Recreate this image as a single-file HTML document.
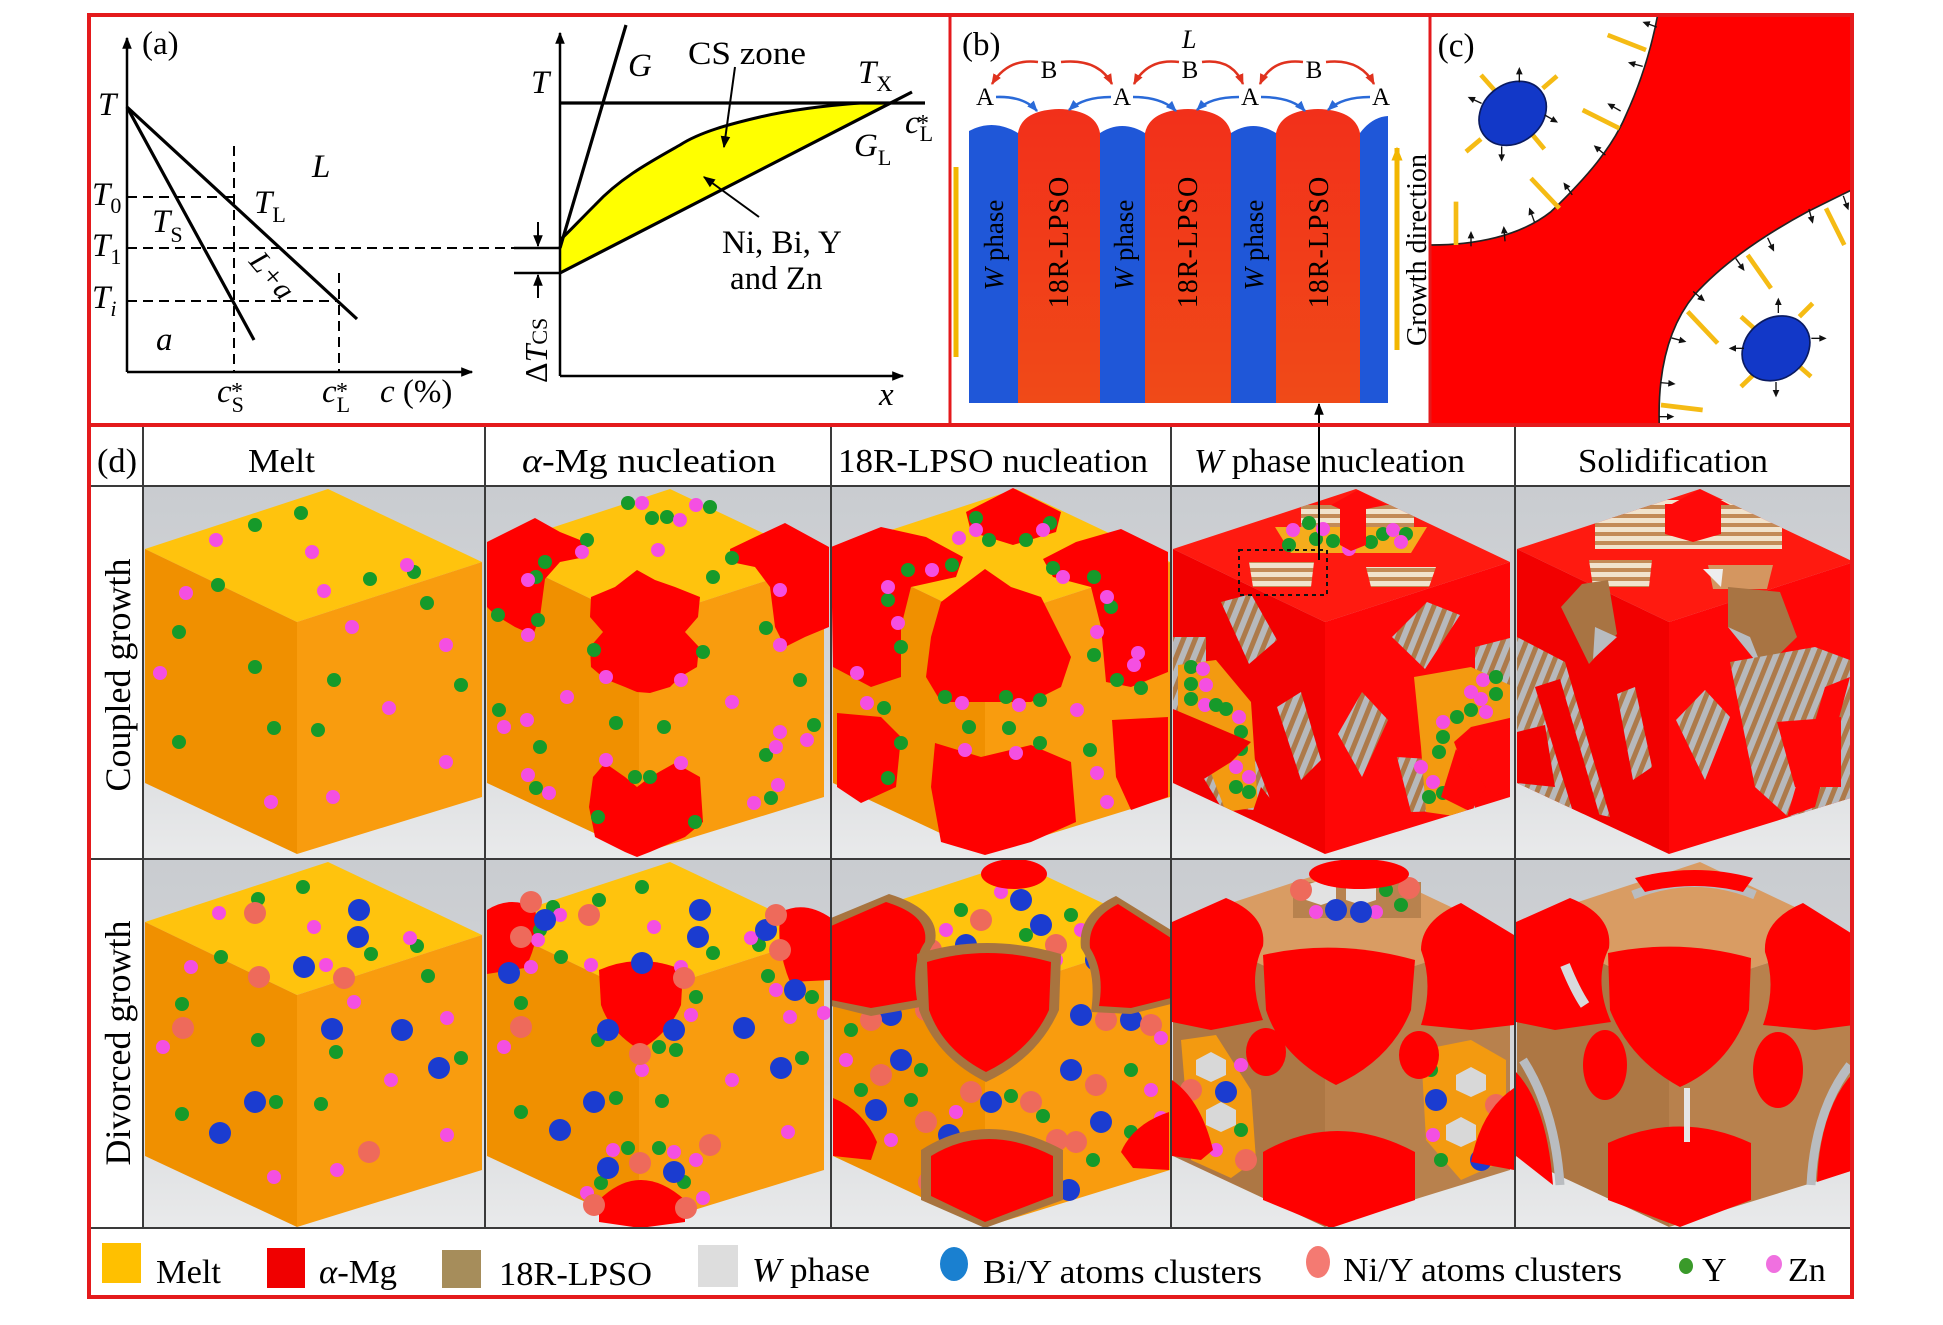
<!DOCTYPE html>
<html><head><meta charset="utf-8">
<style>
html,body{margin:0;padding:0;background:#fff;}
svg{display:block;}
text{font-family:"Liberation Serif","DejaVu Serif",serif;fill:#000;}
</style></head><body>
<svg width="1943" height="1325" viewBox="0 0 1943 1325" xmlns="http://www.w3.org/2000/svg">
<defs>
 <linearGradient id="bg" x1="0" y1="0" x2="0" y2="1">
  <stop offset="0" stop-color="#c9ccd0"/><stop offset="0.6" stop-color="#d6d8db"/><stop offset="1" stop-color="#e9eaeb"/>
 </linearGradient>
 <linearGradient id="rb" x1="0" y1="0" x2="0" y2="1">
  <stop offset="0" stop-color="#f2301a"/><stop offset="1" stop-color="#f04a18"/>
 </linearGradient>
 <clipPath id="cc"><polygon points="185,2 339,75 339,310 154,367 2,296 2,62"/></clipPath>
 <marker id="mk" viewBox="0 0 10 10" refX="9" refY="5" markerWidth="12" markerHeight="12" markerUnits="userSpaceOnUse" orient="auto"><path d="M0,1 L10,5 L0,9 z" fill="#000"/></marker>
 <marker id="mr" viewBox="0 0 10 10" refX="9" refY="5" markerWidth="11" markerHeight="11" markerUnits="userSpaceOnUse" orient="auto"><path d="M0,1 L10,5 L0,9 z" fill="#e0321e"/></marker>
 <marker id="mb" viewBox="0 0 10 10" refX="9" refY="5" markerWidth="11" markerHeight="11" markerUnits="userSpaceOnUse" orient="auto"><path d="M0,1 L10,5 L0,9 z" fill="#2a6ad8"/></marker>
 <marker id="my" viewBox="0 0 10 10" refX="9" refY="5" markerWidth="14" markerHeight="14" markerUnits="userSpaceOnUse" orient="auto"><path d="M0,1 L10,5 L0,9 z" fill="#f2b600"/></marker>
 <pattern id="stT" width="9" height="9" patternUnits="userSpaceOnUse"><rect width="9" height="9" fill="#f1e3cd"/><rect width="9" height="4" fill="#c38b57"/></pattern>
 <pattern id="stS" width="11" height="11" patternUnits="userSpaceOnUse" patternTransform="rotate(22)"><rect width="11" height="11" fill="#b7b9bc"/><rect width="5" height="11" fill="#ad7a4a"/></pattern>
 <g id="cubeO">
  <polygon points="185,2 2,62 154,135 339,75" fill="#ffc30d"/>
  <polygon points="2,62 154,135 154,367 2,296" fill="#f09000"/>
  <polygon points="154,135 339,75 339,310 154,367" fill="#f99c0e"/>
 </g>
 <g id="cubeR">
  <polygon points="185,2 2,62 154,135 339,75" fill="#ff1a10"/>
  <polygon points="2,62 154,135 154,367 2,296" fill="#f20000"/>
  <polygon points="154,135 339,75 339,310 154,367" fill="#ff0606"/>
 </g>
 <g id="cubeB">
  <polygon points="185,2 2,62 154,135 339,75" fill="#d99c63"/>
  <polygon points="2,62 154,135 154,367 2,296" fill="#ad7744"/>
  <polygon points="154,135 339,75 339,310 154,367" fill="#b8814d"/>
 </g>
 <circle id="g" r="7" fill="#169a2a"/>
 <circle id="p" r="7" fill="#f44fe2"/>
 <circle id="b" r="11" fill="#1b3cd0"/>
 <circle id="s" r="11" fill="#ee6a5b"/>
 <g id="ar"><line x1="-24" y1="0" x2="2" y2="0" stroke="#111" stroke-width="4"/><path d="M0,-10 L22,0 L0,10 Z" fill="#111"/></g>
</defs>

<rect width="1943" height="1325" fill="#fff"/>

<!-- ================= PANEL (a) ================= -->
<g stroke="#000" fill="none">
 <line x1="127" y1="372" x2="127" y2="38" stroke-width="2.5" marker-end="url(#mk)"/>
 <line x1="127" y1="372" x2="472" y2="372" stroke-width="2.5" marker-end="url(#mk)"/>
 <line x1="127" y1="107" x2="357" y2="319" stroke-width="3.2"/>
 <line x1="127" y1="107" x2="254" y2="340" stroke-width="3.2"/>
 <g stroke-width="2" stroke-dasharray="10,6">
  <line x1="234" y1="146" x2="234" y2="372"/>
  <line x1="339" y1="273" x2="339" y2="372"/>
  <line x1="127" y1="197" x2="234" y2="197"/>
  <line x1="127" y1="248" x2="514" y2="248"/>
  <line x1="127" y1="301" x2="339" y2="301"/>
 </g>
</g>
<text x="142" y="54" font-size="33">(a)</text>
<text x="98" y="115" font-size="33" font-style="italic">T</text>
<text x="92" y="205" font-size="33" font-style="italic">T<tspan font-size="22" font-style="normal" dy="8">0</tspan></text>
<text x="92" y="256" font-size="33" font-style="italic">T<tspan font-size="22" font-style="normal" dy="8">1</tspan></text>
<text x="92" y="308" font-size="33" font-style="italic">T<tspan font-size="22" dy="8">i</tspan></text>
<text x="312" y="177" font-size="33" font-style="italic">L</text>
<text x="254" y="213" font-size="33" font-style="italic">T<tspan font-size="22" font-style="normal" dy="9">L</tspan></text>
<text x="152" y="232" font-size="33" font-style="italic">T<tspan font-size="22" font-style="normal" dy="10">S</tspan></text>
<text x="0" y="0" font-size="30" font-style="italic" transform="translate(248,262) rotate(50)">L+a</text>
<text x="156" y="350" font-size="33" font-style="italic">a</text>
<text x="217" y="402" font-size="33" font-style="italic">c<tspan font-size="22" font-style="normal" dy="10">S</tspan></text>
<text x="231" y="399" font-size="24">*</text>
<text x="322" y="402" font-size="33" font-style="italic">c<tspan font-size="22" font-style="normal" dy="10">L</tspan></text>
<text x="336" y="399" font-size="24">*</text>
<text x="380" y="402" font-size="33"><tspan font-style="italic">c</tspan> (%)</text>

<!-- right chart -->
<path d="M560,273 L890,103 L860,103 C820,106 790,110 760,117 C730,124 700,132 680,145 C650,162 620,178 595,205 C578,222 566,235 560,240 Z" fill="#ffff00"/>
<path d="M560,240 C566,235 578,222 595,205 C620,178 650,162 680,145 C700,132 730,124 760,117 C790,110 820,106 860,103 L890,103" fill="none" stroke="#000" stroke-width="3"/>
<g stroke="#000" fill="none">
 <line x1="560" y1="376" x2="560" y2="33" stroke-width="2.5" marker-end="url(#mk)"/>
 <line x1="560" y1="376" x2="903" y2="376" stroke-width="2.5" marker-end="url(#mk)"/>
 <line x1="560" y1="103" x2="925" y2="103" stroke-width="3.2"/>
 <line x1="560" y1="248" x2="626" y2="25" stroke-width="3.2"/>
 <line x1="560" y1="273" x2="912" y2="92" stroke-width="3.2"/>
 <line x1="514" y1="248" x2="560" y2="248" stroke-width="2.5"/>
 <line x1="514" y1="273" x2="560" y2="273" stroke-width="2.5"/>
 <line x1="538" y1="222" x2="538" y2="246" stroke-width="2" marker-end="url(#mk)"/>
 <line x1="538" y1="298" x2="538" y2="275" stroke-width="2" marker-end="url(#mk)"/>
 <line x1="735" y1="67" x2="724" y2="147" stroke-width="2" marker-end="url(#mk)"/>
 <line x1="759" y1="217" x2="704" y2="177" stroke-width="2" marker-end="url(#mk)"/>
</g>
<text x="531" y="93" font-size="33" font-style="italic">T</text>
<text x="628" y="76" font-size="33" font-style="italic">G</text>
<text x="688" y="64" font-size="33" textLength="118" lengthAdjust="spacingAndGlyphs">CS zone</text>
<text x="858" y="83" font-size="33" font-style="italic">T<tspan font-size="22" font-style="normal" dy="8">X</tspan></text>
<text x="905" y="133" font-size="33" font-style="italic">c<tspan font-size="22" font-style="normal" dy="8">L</tspan></text>
<text x="917" y="131" font-size="24">*</text>
<text x="854" y="156" font-size="33" font-style="italic">G<tspan font-size="22" font-style="normal" dy="9">L</tspan></text>
<text x="722" y="253" font-size="33">Ni, Bi, Y</text>
<text x="730" y="289" font-size="33">and Zn</text>
<text x="879" y="405" font-size="33" font-style="italic">x</text>
<text x="0" y="0" font-size="32" transform="translate(547,383) rotate(-90)"><tspan font-style="normal">Δ</tspan><tspan font-style="italic">T</tspan><tspan font-size="22" dy="0">CS</tspan></text>

<!-- ================= PANEL (b) ================= -->
<path d="M969,403 L969,131 Q993,118 1018,133 L1018,403 Z" fill="#1f57d8"/>
<path d="M1018,403 L1018,133 Q1022,110 1059,109 Q1096,110 1100,133 L1100,403 Z" fill="url(#rb)"/>
<path d="M1100,403 L1100,133 Q1122,119 1145,133 L1145,403 Z" fill="#1f57d8"/>
<path d="M1145,403 L1145,133 Q1150,110 1188,109 Q1226,110 1231,133 L1231,403 Z" fill="url(#rb)"/>
<path d="M1231,403 L1231,133 Q1253,119 1276,133 L1276,403 Z" fill="#1f57d8"/>
<path d="M1276,403 L1276,133 Q1281,110 1318,109 Q1355,110 1360,133 L1360,403 Z" fill="url(#rb)"/>
<path d="M1360,403 L1360,133 Q1372,117 1388,116 L1388,403 Z" fill="#1f57d8"/>
<g font-size="27" fill="#101030">
 <text transform="translate(1003,245) rotate(-90)" text-anchor="middle"><tspan font-style="italic">W</tspan> phase</text>
 <text transform="translate(1133,245) rotate(-90)" text-anchor="middle"><tspan font-style="italic">W</tspan> phase</text>
 <text transform="translate(1263,245) rotate(-90)" text-anchor="middle"><tspan font-style="italic">W</tspan> phase</text>
</g>
<g font-size="28" fill="#2a0500">
 <text transform="translate(1068,242) rotate(-90)" text-anchor="middle" letter-spacing="1">18R-LPSO</text>
 <text transform="translate(1197,242) rotate(-90)" text-anchor="middle" letter-spacing="1">18R-LPSO</text>
 <text transform="translate(1328,242) rotate(-90)" text-anchor="middle" letter-spacing="1">18R-LPSO</text>
</g>
<line x1="956" y1="167" x2="956" y2="357" stroke="#f2b600" stroke-width="5"/>
<line x1="1397" y1="350" x2="1397" y2="148" stroke="#f2b600" stroke-width="5" marker-end="url(#my)"/>
<text transform="translate(1426,250) rotate(-90)" text-anchor="middle" font-size="28">Growth direction</text>
<text x="962" y="55" font-size="33">(b)</text>
<text x="1182" y="48" font-size="26" font-style="italic">L</text>
<g font-size="25" text-anchor="middle">
 <text x="1049" y="78">B</text><text x="1190" y="78">B</text><text x="1314" y="78">B</text>
 <text x="985" y="105">A</text><text x="1122" y="105">A</text><text x="1250" y="105">A</text><text x="1381" y="105">A</text>
</g>
<g fill="none" stroke="#e0321e" stroke-width="2.5">
 <path d="M1038,62 Q1008,58 992,84" marker-end="url(#mr)"/>
 <path d="M1061,62 Q1098,58 1112,84" marker-end="url(#mr)"/>
 <path d="M1179,62 Q1148,58 1134,84" marker-end="url(#mr)"/>
 <path d="M1202,62 Q1232,58 1243,84" marker-end="url(#mr)"/>
 <path d="M1303,62 Q1272,58 1260,84" marker-end="url(#mr)"/>
 <path d="M1326,62 Q1360,58 1374,84" marker-end="url(#mr)"/>
</g>
<g fill="none" stroke="#2a6ad8" stroke-width="2.5">
 <path d="M996,97 Q1024,96 1037,111" marker-end="url(#mb)"/>
 <path d="M1111,97 Q1083,97 1069,110" marker-end="url(#mb)"/>
 <path d="M1133,97 Q1162,97 1176,111" marker-end="url(#mb)"/>
 <path d="M1239,97 Q1210,97 1197,110" marker-end="url(#mb)"/>
 <path d="M1261,97 Q1292,97 1305,111" marker-end="url(#mb)"/>
 <path d="M1370,97 Q1342,97 1328,110" marker-end="url(#mb)"/>
</g>

<!-- ================= PANEL (c) ================= -->
<g transform="translate(1431,15) scale(0.33333)">
 <path d="M680,0 C665,80 640,180 585,300 C545,395 470,485 360,590 C265,665 130,690 0,690 L0,1236 L685,1236 C680,1100 700,950 790,840 C880,740 1000,660 1130,590 C1190,560 1230,540 1262,525 L1262,0 Z" fill="#ff0000"/>
 <path d="M680,0 C665,80 640,180 585,300 C545,395 470,485 360,590 C265,665 130,690 0,690" fill="none" stroke="#222" stroke-width="5"/>
 <path d="M685,1236 C680,1100 700,950 790,840 C880,740 1000,660 1130,590 C1190,560 1230,540 1262,525" fill="none" stroke="#222" stroke-width="5"/>
 <g stroke="#f5bb14" stroke-width="14" stroke-linecap="butt">
  <line x1="530" y1="60" x2="645" y2="105"/><line x1="455" y1="285" x2="565" y2="340"/>
  <line x1="300" y1="490" x2="385" y2="580"/><line x1="75" y1="560" x2="75" y2="690"/>
  <line x1="150" y1="180" x2="190" y2="225"/><line x1="378" y1="183" x2="335" y2="220"/>
  <line x1="105" y1="410" x2="150" y2="372"/><line x1="340" y1="402" x2="305" y2="360"/>
  <line x1="1185" y1="580" x2="1240" y2="690"/><line x1="950" y1="720" x2="1020" y2="820"/>
  <line x1="770" y1="890" x2="860" y2="985"/><line x1="690" y1="1170" x2="815" y2="1185"/>
  <line x1="930" y1="905" x2="975" y2="945"/><line x1="1145" y1="865" x2="1105" y2="905"/>
  <line x1="930" y1="1115" x2="975" y2="1072"/><line x1="1140" y1="1085" x2="1100" y2="1050"/>
 </g>
 <ellipse cx="245" cy="295" rx="108" ry="88" transform="rotate(-38 245 295)" fill="#1238c8" stroke="#0a1a60" stroke-width="5"/>
 <ellipse cx="1035" cy="1000" rx="108" ry="90" transform="rotate(-38 1035 1000)" fill="#1238c8" stroke="#0a1a60" stroke-width="5"/>
 <use href="#ar" transform="translate(265,178) rotate(-90)"/>
 <use href="#ar" transform="translate(130,255) rotate(-155)"/>
 <use href="#ar" transform="translate(362,312) rotate(30)"/>
 <use href="#ar" transform="translate(212,418) rotate(90)"/>
 <use href="#ar" transform="translate(1042,870) rotate(-90)"/>
 <use href="#ar" transform="translate(1165,970) rotate(0)"/>
 <use href="#ar" transform="translate(915,1000) rotate(180)"/>
 <use href="#ar" transform="translate(1035,1125) rotate(90)"/>
 <use href="#ar" transform="translate(655,28) rotate(-160)"/>
 <use href="#ar" transform="translate(612,148) rotate(-165)"/>
 <use href="#ar" transform="translate(548,276) rotate(-150)"/>
 <use href="#ar" transform="translate(505,405) rotate(-140)"/>
 <use href="#ar" transform="translate(410,520) rotate(-125)"/>
 <use href="#ar" transform="translate(302,598) rotate(-110)"/>
 <use href="#ar" transform="translate(220,655) rotate(-95)"/>
 <use href="#ar" transform="translate(120,670) rotate(-90)"/>
 <use href="#ar" transform="translate(1245,565) rotate(70)"/>
 <use href="#ar" transform="translate(1140,605) rotate(75)"/>
 <use href="#ar" transform="translate(1020,690) rotate(65)"/>
 <use href="#ar" transform="translate(928,750) rotate(55)"/>
 <use href="#ar" transform="translate(805,845) rotate(40)"/>
 <use href="#ar" transform="translate(745,975) rotate(15)"/>
 <use href="#ar" transform="translate(712,1105) rotate(5)"/>
 <use href="#ar" transform="translate(708,1205) rotate(0)"/>
 <text x="20" y="125" font-size="100">(c)</text>
</g>

<!-- ================= PANEL (d) grid ================= -->
<g>
 <rect x="143" y="487" width="1709" height="371" fill="url(#bg)"/>
 <rect x="143" y="860" width="1709" height="368" fill="url(#bg)"/>
</g>

<!-- Row 1 Melt -->
<g transform="translate(143,487)">
 <use href="#cubeO"/>
 <use href="#g" x="158" y="26"/><use href="#g" x="112" y="38"/><use href="#g" x="75" y="98"/><use href="#g" x="227" y="92"/><use href="#g" x="271" y="85"/><use href="#g" x="284" y="116"/><use href="#g" x="36" y="145"/><use href="#g" x="112" y="180"/><use href="#g" x="191" y="193"/><use href="#g" x="318" y="198"/><use href="#g" x="131" y="241"/><use href="#g" x="175" y="243"/><use href="#g" x="36" y="255"/>
 <use href="#p" x="73" y="53"/><use href="#p" x="169" y="65"/><use href="#p" x="264" y="78"/><use href="#p" x="181" y="104"/><use href="#p" x="43" y="106"/><use href="#p" x="209" y="140"/><use href="#p" x="303" y="158"/><use href="#p" x="17" y="186"/><use href="#p" x="246" y="221"/><use href="#p" x="303" y="275"/><use href="#p" x="128" y="315"/><use href="#p" x="190" y="310"/>
</g>

<!-- Row 1 alpha-Mg -->
<g transform="translate(485,487)">
 <use href="#cubeO"/>
 <g fill="#ff0000">
  <polygon points="152,83 170,93 190,100 215,110 213,130 200,145 214,160 212,180 195,190 185,200 165,206 152,205 140,200 120,192 106,180 105,160 118,145 105,130 106,110 130,100"/>
  <polygon points="2,55 50,31 75,45 100,55 100,70 75,75 60,92 55,130 48,148 30,140 10,128 2,120"/>
  <polygon points="344,60 300,36 270,50 245,62 246,75 270,80 285,100 290,140 300,160 320,150 344,140"/>
  <polygon points="120,276 140,290 152,300 165,290 190,276 215,290 218,335 200,350 165,365 152,370 140,365 110,350 104,320 108,290"/>
 </g>
 <use href="#g" x="143" y="16"/><use href="#g" x="225" y="20"/><use href="#g" x="167" y="31"/><use href="#g" x="182" y="30"/><use href="#g" x="228" y="90"/><use href="#g" x="247" y="71"/><use href="#g" x="281" y="141"/><use href="#g" x="315" y="193"/><use href="#g" x="329" y="238"/><use href="#g" x="281" y="268"/><use href="#g" x="286" y="311"/><use href="#g" x="179" y="240"/><use href="#g" x="131" y="236"/><use href="#g" x="55" y="260"/><use href="#g" x="14" y="223"/><use href="#g" x="51" y="301"/><use href="#g" x="150" y="290"/><use href="#g" x="165" y="290"/><use href="#g" x="210" y="335"/><use href="#g" x="113" y="330"/><use href="#g" x="53" y="133"/><use href="#g" x="13" y="128"/><use href="#g" x="102" y="53"/><use href="#g" x="51" y="90"/><use href="#g" x="60" y="75"/><use href="#g" x="218" y="165"/><use href="#g" x="109" y="163"/>
 <use href="#p" x="157" y="16"/><use href="#p" x="211" y="18"/><use href="#p" x="195" y="33"/><use href="#p" x="173" y="63"/><use href="#p" x="97" y="65"/><use href="#p" x="43" y="93"/><use href="#p" x="43" y="148"/><use href="#p" x="295" y="158"/><use href="#p" x="295" y="103"/><use href="#p" x="82" y="210"/><use href="#p" x="247" y="215"/><use href="#p" x="19" y="240"/><use href="#p" x="42" y="233"/><use href="#p" x="295" y="245"/><use href="#p" x="322" y="253"/><use href="#p" x="291" y="260"/><use href="#p" x="121" y="273"/><use href="#p" x="196" y="276"/><use href="#p" x="43" y="288"/><use href="#p" x="64" y="306"/><use href="#p" x="269" y="316"/><use href="#p" x="293" y="298"/><use href="#p" x="121" y="190"/><use href="#p" x="196" y="193"/>
</g>

<!-- Row 1 18R-LPSO -->
<g transform="translate(831,487)">
 <use href="#cubeO"/>
 <g fill="#ff0000">
  <polygon points="182,1 230,25 225,45 182,58 140,45 135,25"/>
  <polygon points="0,60 50,40 95,50 132,70 125,90 80,100 70,140 70,190 40,200 2,180"/>
  <polygon points="337,65 290,42 245,55 212,72 222,90 260,100 270,140 275,195 300,200 337,185"/>
  <polygon points="154,82 180,100 210,110 225,140 240,170 230,200 200,215 154,215 110,215 95,190 100,150 110,115 130,100"/>
  <polygon points="6,226 50,230 70,250 65,300 30,316 6,300"/>
  <polygon points="281,233 337,230 337,310 300,323 285,290"/>
  <polygon points="104,256 150,270 200,258 240,275 245,335 200,355 154,368 110,355 100,300"/>
 </g>
 <use href="#g" x="158" y="53"/><use href="#g" x="195" y="53"/><use href="#g" x="219" y="36"/><use href="#g" x="145" y="31"/><use href="#g" x="77" y="83"/><use href="#g" x="121" y="78"/><use href="#g" x="222" y="81"/><use href="#g" x="263" y="90"/><use href="#g" x="280" y="120"/><use href="#g" x="57" y="113"/><use href="#g" x="70" y="160"/><use href="#g" x="263" y="168"/><use href="#g" x="114" y="210"/><use href="#g" x="175" y="210"/><use href="#g" x="209" y="213"/><use href="#g" x="286" y="193"/><use href="#g" x="310" y="201"/><use href="#g" x="53" y="221"/><use href="#g" x="138" y="240"/><use href="#g" x="178" y="241"/><use href="#g" x="70" y="256"/><use href="#g" x="259" y="263"/><use href="#g" x="209" y="256"/><use href="#g" x="57" y="291"/>
 <use href="#p" x="145" y="43"/><use href="#p" x="212" y="43"/><use href="#p" x="128" y="51"/><use href="#p" x="101" y="83"/><use href="#p" x="232" y="90"/><use href="#p" x="57" y="100"/><use href="#p" x="276" y="110"/><use href="#p" x="67" y="136"/><use href="#p" x="266" y="145"/><use href="#p" x="26" y="186"/><use href="#p" x="303" y="178"/><use href="#p" x="131" y="216"/><use href="#p" x="188" y="218"/><use href="#p" x="246" y="223"/><use href="#p" x="36" y="216"/><use href="#p" x="134" y="263"/><use href="#p" x="185" y="266"/><use href="#p" x="266" y="286"/><use href="#p" x="276" y="315"/><use href="#p" x="307" y="166"/>
</g>

<!-- Row 1 W phase -->
<g transform="translate(1171,487)">
 <use href="#cubeR"/>
 <g clip-path="url(#cc)">
  <polygon points="130,18 243,18 243,50 130,50" fill="url(#stT)"/>
  <polygon points="104,40 256,40 240,66 120,66" fill="#f5ac1c"/>
  <use href="#p" x="122" y="43"/><use href="#g" x="138" y="36"/><use href="#g" x="145" y="52"/><use href="#p" x="152" y="42"/><use href="#g" x="162" y="54"/><use href="#p" x="178" y="62"/><use href="#g" x="200" y="55"/><use href="#g" x="212" y="47"/><use href="#p" x="222" y="43"/><use href="#g" x="235" y="47"/><use href="#p" x="230" y="55"/><use href="#g" x="118" y="58"/>
  <polygon points="187,3 215,18 195,22 195,58 180,64 169,58 169,22 160,18" fill="#ff0a0a"/>
  <polygon points="78,75 143,75 140,100 82,100" fill="url(#stT)"/>
  <polygon points="195,80 265,80 258,100 200,100" fill="url(#stT)"/>
  <polygon points="50,115 80,107 106,153 78,177" fill="url(#stS)"/>
  <polygon points="221,150 256,115 289,128 254,182" fill="url(#stS)"/>
  <polygon points="106,220 130,205 150,273 130,293" fill="url(#stS)"/>
  <polygon points="167,247 191,205 217,233 191,290" fill="url(#stS)"/>
  <polygon points="2,150 35,150 35,253 2,260" fill="url(#stS)"/>
  <polygon points="20,270 80,262 104,325 50,320" fill="url(#stS)"/>
  <polygon points="7,178 45,173 80,215 87,320 55,325 30,260 7,235" fill="#f39a10"/>
  <polygon points="304,160 343,150 343,260 304,265" fill="url(#stS)"/>
  <polygon points="226,270 304,275 304,323 240,325" fill="url(#stS)"/>
  <polygon points="243,190 300,180 343,200 343,250 290,330 255,325 250,260" fill="#f39a10"/>
  <use href="#g" x="20" y="180"/><use href="#p" x="32" y="182"/><use href="#g" x="20" y="197"/><use href="#p" x="35" y="198"/><use href="#g" x="20" y="212"/><use href="#p" x="34" y="218"/><use href="#g" x="45" y="218"/><use href="#g" x="55" y="222"/><use href="#p" x="68" y="230"/><use href="#g" x="70" y="245"/><use href="#g" x="70" y="262"/><use href="#p" x="65" y="280"/><use href="#p" x="78" y="290"/><use href="#g" x="65" y="300"/><use href="#g" x="78" y="305"/>
  <use href="#p" x="312" y="193"/><use href="#g" x="325" y="190"/><use href="#g" x="325" y="207"/><use href="#p" x="310" y="212"/><use href="#p" x="300" y="205"/><use href="#g" x="300" y="223"/><use href="#p" x="315" y="225"/><use href="#g" x="286" y="230"/><use href="#p" x="272" y="235"/><use href="#g" x="272" y="250"/><use href="#g" x="268" y="265"/><use href="#p" x="250" y="280"/><use href="#p" x="262" y="295"/><use href="#g" x="258" y="310"/><use href="#g" x="272" y="306"/>
  <polygon points="2,222 40,238 80,255 60,275 20,300 2,296" fill="#f20000"/>
  <polygon points="90,300 106,320 100,340 80,330" fill="#f20000"/>
  <polygon points="343,230 300,240 283,255 300,300 343,310" fill="#ff0606"/>
  <polygon points="285,262 315,300 300,325 270,310" fill="#ff0606"/>
 </g>
 <rect x="68" y="63" width="88" height="45" fill="none" stroke="#111" stroke-width="2" stroke-dasharray="4,4"/>
</g>

<!-- Row 1 Solidification -->
<g transform="translate(1515,487)">
 <use href="#cubeR"/>
 <g clip-path="url(#cc)">
  <polygon points="80,13 267,13 267,62 80,62" fill="url(#stT)"/>
  <polygon points="150,17 206,17 206,47 178,55 150,47" fill="#ff0a0a"/>
  <polygon points="185,2 215,18 155,18" fill="#ff0a0a"/>
  <polygon points="74,73 137,73 134,100 78,100" fill="url(#stT)"/>
  <polygon points="193,78 258,78 252,102 198,102" fill="#d49660"/>
  <polygon points="188,82 208,82 206,100" fill="#eeeeee"/>
  <polygon points="67,97 93,93 102,147 74,177 46,120" fill="#a87443"/>
  <polygon points="80,140 102,150 78,172" fill="#b8bcc0"/>
  <polygon points="213,100 265,105 282,150 248,183 213,140" fill="#a87443"/>
  <polygon points="213,140 235,150 248,183" fill="#b8bcc0"/>
  <polygon points="2,150 50,175 95,330 50,320 2,296" fill="url(#stS)"/>
  <polygon points="102,207 120,200 137,280 118,293" fill="url(#stS)"/>
  <polygon points="161,233 190,203 215,230 190,293" fill="url(#stS)"/>
  <polygon points="215,175 300,160 340,175 339,310 280,336 240,300" fill="url(#stS)"/>
  <polygon points="20,200 45,192 85,330 58,325" fill="#f20000"/>
  <polygon points="2,245 30,238 40,300 2,296" fill="#f20000"/>
  <polygon points="310,200 335,190 300,320 272,330" fill="#ff0606"/>
  <polygon points="262,235 326,230 326,300 280,300" fill="#ff0606"/>
 </g>
</g>

<!-- Row 2 Melt -->
<g transform="translate(143,860)">
 <use href="#cubeO"/>
 <use href="#g" x="160" y="27"/><use href="#g" x="115" y="39"/><use href="#g" x="78" y="97"/><use href="#g" x="228" y="94"/><use href="#g" x="274" y="86"/><use href="#g" x="285" y="116"/><use href="#g" x="39" y="144"/><use href="#g" x="115" y="180"/><use href="#g" x="193" y="192"/><use href="#g" x="318" y="198"/><use href="#g" x="133" y="242"/><use href="#g" x="178" y="244"/><use href="#g" x="39" y="254"/>
 <use href="#p" x="76" y="53"/><use href="#p" x="171" y="67"/><use href="#p" x="267" y="78"/><use href="#p" x="183" y="105"/><use href="#p" x="48" y="107"/><use href="#p" x="211" y="142"/><use href="#p" x="304" y="158"/><use href="#p" x="20" y="187"/><use href="#p" x="248" y="220"/><use href="#p" x="304" y="275"/><use href="#p" x="131" y="317"/><use href="#p" x="194" y="310"/>
 <use href="#b" x="216" y="50"/><use href="#b" x="215" y="77"/><use href="#b" x="161" y="107"/><use href="#b" x="189" y="169"/><use href="#b" x="259" y="170"/><use href="#b" x="296" y="208"/><use href="#b" x="112" y="242"/><use href="#b" x="77" y="273"/>
 <use href="#s" x="112" y="53"/><use href="#s" x="116" y="117"/><use href="#s" x="201" y="118"/><use href="#s" x="40" y="168"/><use href="#s" x="226" y="292"/>
</g>

<!-- Row 2 alpha-Mg -->
<g transform="translate(485,860)">
 <use href="#cubeO"/>
 <g fill="#ff0000">
  <path d="M114,110 Q155,92 198,110 L196,145 Q185,172 155,190 Q125,172 116,145 Z"/>
  <path d="M2,50 Q25,35 50,48 Q56,80 40,108 L2,114 Z"/>
  <path d="M346,58 Q320,40 296,52 Q290,85 305,122 L346,120 Z"/>
  <path d="M114,340 Q155,300 200,340 L200,362 L155,368 L114,362 Z"/>
 </g>
 <use href="#g" x="157" y="27"/><use href="#g" x="114" y="40"/><use href="#g" x="76" y="97"/><use href="#g" x="228" y="93"/><use href="#g" x="274" y="85"/><use href="#g" x="283" y="116"/><use href="#g" x="36" y="143"/><use href="#g" x="113" y="180"/><use href="#g" x="174" y="187"/><use href="#g" x="191" y="190"/><use href="#g" x="317" y="198"/><use href="#g" x="131" y="238"/><use href="#g" x="177" y="241"/><use href="#g" x="36" y="252"/><use href="#g" x="55" y="70"/><use href="#g" x="68" y="47"/><use href="#g" x="211" y="137"/><use href="#g" x="327" y="137"/><use href="#g" x="143" y="288"/><use href="#g" x="174" y="288"/><use href="#g" x="116" y="323"/><use href="#g" x="199" y="322"/>
 <use href="#p" x="169" y="67"/><use href="#p" x="266" y="78"/><use href="#p" x="46" y="107"/><use href="#p" x="106" y="105"/><use href="#p" x="196" y="107"/><use href="#p" x="291" y="130"/><use href="#p" x="206" y="155"/><use href="#p" x="305" y="157"/><use href="#p" x="339" y="153"/><use href="#p" x="19" y="187"/><use href="#p" x="157" y="210"/><use href="#p" x="247" y="220"/><use href="#p" x="303" y="272"/><use href="#p" x="128" y="290"/><use href="#p" x="189" y="292"/><use href="#p" x="211" y="300"/><use href="#p" x="102" y="333"/><use href="#p" x="218" y="338"/><use href="#p" x="75" y="55"/><use href="#p" x="53" y="80"/>
 <use href="#b" x="215" y="50"/><use href="#b" x="213" y="77"/><use href="#b" x="157" y="103"/><use href="#b" x="123" y="170"/><use href="#b" x="189" y="170"/><use href="#b" x="259" y="168"/><use href="#b" x="296" y="208"/><use href="#b" x="109" y="242"/><use href="#b" x="75" y="270"/><use href="#b" x="24" y="113"/><use href="#b" x="60" y="60"/><use href="#b" x="281" y="70"/><use href="#b" x="310" y="130"/><use href="#b" x="123" y="308"/><use href="#b" x="189" y="312"/>
 <use href="#s" x="104" y="55"/><use href="#s" x="36" y="77"/><use href="#s" x="46" y="42"/><use href="#s" x="295" y="90"/><use href="#s" x="199" y="118"/><use href="#s" x="36" y="167"/><use href="#s" x="155" y="194"/><use href="#s" x="225" y="285"/><use href="#s" x="155" y="303"/><use href="#s" x="109" y="345"/><use href="#s" x="201" y="348"/><use href="#s" x="291" y="55"/>
</g>

<!-- Row 2 18R-LPSO -->
<g transform="translate(831,860)">
 <use href="#cubeO"/>
 <use href="#b" x="190" y="40"/><use href="#s" x="150" y="60"/><use href="#g" x="130" y="50"/><use href="#p" x="170" y="32"/><use href="#b" x="210" y="65"/><use href="#g" x="240" y="55"/><use href="#p" x="115" y="70"/><use href="#s" x="225" y="85"/><use href="#b" x="135" y="85"/><use href="#g" x="195" y="75"/><use href="#p" x="250" y="70"/><use href="#s" x="100" y="90"/><use href="#b" x="265" y="100"/><use href="#g" x="160" y="95"/><use href="#p" x="225" y="100"/>
 <use href="#s" x="95" y="150"/><use href="#b" x="60" y="155"/><use href="#s" x="40" y="160"/><use href="#g" x="20" y="170"/><use href="#b" x="250" y="155"/><use href="#s" x="275" y="160"/><use href="#b" x="300" y="160"/><use href="#s" x="320" y="165"/><use href="#p" x="330" y="178"/>
 <use href="#b" x="70" y="200"/><use href="#s" x="50" y="215"/><use href="#g" x="30" y="230"/><use href="#p" x="15" y="200"/><use href="#b" x="45" y="250"/><use href="#g" x="80" y="240"/><use href="#s" x="95" y="262"/><use href="#p" x="60" y="280"/><use href="#b" x="20" y="270"/><use href="#g" x="90" y="210"/>
 <use href="#b" x="240" y="210"/><use href="#s" x="265" y="225"/><use href="#g" x="300" y="210"/><use href="#p" x="320" y="230"/><use href="#b" x="270" y="262"/><use href="#g" x="300" y="272"/><use href="#s" x="245" y="282"/><use href="#p" x="330" y="258"/><use href="#b" x="312" y="292"/><use href="#g" x="262" y="300"/>
 <use href="#s" x="140" y="232"/><use href="#b" x="160" y="242"/><use href="#g" x="180" y="236"/><use href="#s" x="200" y="242"/><use href="#p" x="125" y="252"/><use href="#g" x="212" y="256"/><use href="#b" x="118" y="275"/><use href="#s" x="226" y="280"/><use href="#b" x="238" y="330"/><use href="#s" x="98" y="322"/><use href="#p" x="108" y="300"/>
 <ellipse cx="183" cy="14" rx="33" ry="15" fill="#ff0000"/>
 <path d="M0,58 L58,34 Q110,50 104,82 Q88,102 95,146 L40,156 L0,146 Z" fill="#a8743f"/>
 <path d="M0,66 L55,42 Q98,55 94,82 Q80,102 86,140 L40,148 L0,140 Z" fill="#ff0000"/>
 <path d="M340,70 L285,36 Q246,54 250,88 Q266,112 260,152 L300,154 L340,144 Z" fill="#a8743f"/>
 <path d="M340,78 L287,44 Q256,60 259,88 Q274,112 268,146 L300,148 L340,138 Z" fill="#ff0000"/>
 <path d="M86,94 Q155,72 230,94 L228,150 Q207,198 155,222 Q106,198 88,150 Z" fill="#a8743f"/>
 <path d="M96,102 Q155,84 220,102 L218,150 Q200,190 155,212 Q112,190 98,150 Z" fill="#ff0000"/>
 <path d="M90,290 Q155,248 232,290 L232,340 L154,368 L90,340 Z" fill="#a8743f"/>
 <path d="M100,296 Q155,262 222,296 L222,336 L154,362 L100,336 Z" fill="#ff0000"/>
 <path d="M2,238 Q32,250 46,282 L40,300 L2,296 Z" fill="#ff0000"/>
 <path d="M338,252 Q302,264 290,292 L302,308 L338,310 Z" fill="#ff0000"/>
</g>

<!-- Row 2 W phase -->
<g transform="translate(1171,860)">
 <use href="#cubeB"/>
 <rect x="122" y="22" width="128" height="36" fill="#b8824e"/>
 <polygon points="135,25 150,20 165,25 165,40 150,45 135,40" fill="#e2e2e2"/>
 <polygon points="175,25 190,20 205,25 205,40 190,45 175,40" fill="#e2e2e2"/>
 <use href="#s" x="130" y="30"/><use href="#b" x="165" y="50"/><use href="#g" x="215" y="30"/><use href="#g" x="230" y="45"/><use href="#p" x="205" y="52"/><use href="#s" x="238" y="28"/><use href="#p" x="145" y="52"/><use href="#b" x="190" y="52"/>
 <ellipse cx="188" cy="14" rx="50" ry="15" fill="#ff0000"/>
 <polygon points="10,180 45,175 80,230 85,300 60,318 20,300" fill="#f39a10"/>
 <polygon points="250,190 300,180 335,200 335,300 290,320 255,280" fill="#f39a10"/>
 <polygon points="25,200 40,192 55,200 55,215 40,222 25,215" fill="#d8d8d8"/>
 <polygon points="35,250 50,242 65,250 65,265 50,272 35,265" fill="#d8d8d8"/>
 <polygon points="285,215 300,207 315,215 315,230 300,237 285,230" fill="#d8d8d8"/>
 <polygon points="275,265 290,257 305,265 305,280 290,287 275,280" fill="#d8d8d8"/>
 <use href="#s" x="20" y="230"/><use href="#b" x="55" y="232"/><use href="#g" x="70" y="270"/><use href="#p" x="45" y="290"/><use href="#g" x="25" y="280"/><use href="#p" x="70" y="205"/><use href="#s" x="75" y="300"/>
 <use href="#b" x="265" y="240"/><use href="#s" x="325" y="245"/><use href="#g" x="260" y="210"/><use href="#p" x="320" y="280"/><use href="#g" x="270" y="300"/><use href="#b" x="310" y="300"/><use href="#p" x="262" y="275"/>
 <path d="M1,62 L55,38 Q96,55 92,86 Q76,120 92,160 L40,170 L1,162 Z" fill="#ff0000"/>
 <path d="M343,75 L290,43 Q250,60 250,90 Q263,125 250,165 L300,170 L343,165 Z" fill="#ff0000"/>
 <path d="M92,95 Q165,78 244,100 L240,150 Q220,200 165,225 Q110,197 95,150 Z" fill="#ff0000"/>
 <ellipse cx="95" cy="192" rx="20" ry="24" fill="#ff0000"/>
 <ellipse cx="248" cy="195" rx="20" ry="24" fill="#ff0000"/>
 <path d="M92,292 Q165,250 244,292 L244,340 L160,368 L92,340 Z" fill="#ff0000"/>
 <path d="M1,220 Q30,240 42,290 L30,300 L1,296 Z" fill="#ff0000"/>
 <path d="M343,228 Q310,250 300,302 L343,310 Z" fill="#ff0000"/>
</g>

<!-- Row 2 Solidification -->
<g transform="translate(1515,860)">
 <use href="#cubeB"/>
 <path d="M118,35 Q180,10 240,35" fill="none" stroke="#b9bcc0" stroke-width="9"/>
 <path d="M120,18 Q180,2 238,18 L228,32 Q180,20 130,32 Z" fill="#ff0000"/>
 <path d="M1,62 L55,38 Q98,55 94,88 Q78,120 96,162 L40,170 L1,162 Z" fill="#ff0000"/>
 <path d="M339,75 L288,43 Q248,60 250,92 Q262,126 248,165 L300,170 L339,165 Z" fill="#ff0000"/>
 <path d="M93,93 Q165,78 236,98 L234,150 Q215,205 165,227 Q115,200 95,150 Z" fill="#ff0000"/>
 <ellipse cx="90" cy="205" rx="22" ry="35" fill="#ff0000"/>
 <ellipse cx="263" cy="210" rx="25" ry="38" fill="#ff0000"/>
 <path d="M93,283 Q165,250 236,283 L236,340 L165,367 L93,340 Z" fill="#ff0000"/>
 <path d="M8,200 Q40,250 45,325" fill="none" stroke="#b9bcc0" stroke-width="9"/>
 <path d="M335,205 Q300,250 296,325" fill="none" stroke="#b9bcc0" stroke-width="9"/>
 <path d="M50,105 Q60,130 70,145" fill="none" stroke="#d8dadc" stroke-width="10"/>
 <line x1="172" y1="228" x2="172" y2="282" stroke="#e6e6e6" stroke-width="6"/>
 <path d="M1,212 Q32,245 38,325 L1,296 Z" fill="#ff0000"/>
 <path d="M339,212 Q305,248 302,322 L339,310 Z" fill="#ff0000"/>
</g>

<!-- header / grid lines -->
<rect x="143" y="427" width="1709" height="59" fill="#fff"/>
<g stroke="#3a3a3a" stroke-width="2">
 <line x1="89" y1="486" x2="1852" y2="486"/>
 <line x1="89" y1="859" x2="1852" y2="859"/>
 <line x1="89" y1="1228" x2="1852" y2="1228"/>
 <line x1="143" y1="427" x2="143" y2="1228"/>
 <line x1="485" y1="427" x2="485" y2="1228"/>
 <line x1="831" y1="427" x2="831" y2="1228"/>
 <line x1="1171" y1="427" x2="1171" y2="1228"/>
 <line x1="1515" y1="427" x2="1515" y2="1228"/>
</g>
<g font-size="34">
 <text x="97" y="472" textLength="40" lengthAdjust="spacingAndGlyphs">(d)</text>
 <text x="248" y="472" textLength="67" lengthAdjust="spacingAndGlyphs">Melt</text>
 <text x="522" y="472" textLength="254" lengthAdjust="spacingAndGlyphs"><tspan font-style="italic">α</tspan>-Mg nucleation</text>
 <text x="838" y="472" textLength="310" lengthAdjust="spacingAndGlyphs">18R-LPSO nucleation</text>
 <text x="1194" y="472" textLength="271" lengthAdjust="spacingAndGlyphs"><tspan font-style="italic">W</tspan> phase nucleation</text>
 <text x="1578" y="472" textLength="190" lengthAdjust="spacingAndGlyphs">Solidification</text>
</g>
<text transform="translate(130,675) rotate(-90)" text-anchor="middle" font-size="36">Coupled growth</text>
<text transform="translate(130,1043) rotate(-90)" text-anchor="middle" font-size="36">Divorced growth</text>

<!-- arrow from (b) to W cube -->
<line x1="1319" y1="560" x2="1319" y2="404" stroke="#000" stroke-width="2" marker-end="url(#mk)"/>

<!-- legend -->
<rect x="102" y="1243" width="39" height="40" fill="#ffc000"/>
<text x="156" y="1283" font-size="34" textLength="65" lengthAdjust="spacingAndGlyphs">Melt</text>
<rect x="267" y="1248" width="38" height="40" fill="#f00000"/>
<text x="319" y="1283" font-size="34" textLength="78" lengthAdjust="spacingAndGlyphs"><tspan font-style="italic">α</tspan>-Mg</text>
<rect x="442" y="1250" width="39" height="38" fill="#a68d5b"/>
<text x="499" y="1285" font-size="34" textLength="153" lengthAdjust="spacingAndGlyphs">18R-LPSO</text>
<rect x="698" y="1245" width="40" height="42" fill="#dddddd"/>
<text x="752" y="1281" font-size="34" textLength="118" lengthAdjust="spacingAndGlyphs"><tspan font-style="italic">W</tspan> phase</text>
<ellipse cx="954" cy="1264" rx="14" ry="17" fill="#1a80d0"/>
<text x="983" y="1283" font-size="34" textLength="279" lengthAdjust="spacingAndGlyphs">Bi/Y atoms clusters</text>
<ellipse cx="1318" cy="1262" rx="12" ry="16" fill="#f47a72"/>
<text x="1343" y="1281" font-size="34" textLength="279" lengthAdjust="spacingAndGlyphs">Ni/Y atoms clusters</text>
<ellipse cx="1686" cy="1266" rx="7" ry="8" fill="#3a9a2a"/>
<text x="1702" y="1281" font-size="34">Y</text>
<ellipse cx="1774" cy="1264" rx="8" ry="9" fill="#f070e0"/>
<text x="1788" y="1281" font-size="34">Zn</text>

<!-- red frame -->
<g fill="none" stroke="#e41a1c">
 <rect x="89" y="15" width="1763" height="1282" stroke-width="4"/>
 <line x1="89" y1="425" x2="1852" y2="425" stroke-width="4"/>
 <line x1="950" y1="15" x2="950" y2="425" stroke-width="3"/>
 <line x1="1430" y1="15" x2="1430" y2="425" stroke-width="3"/>
</g>
</svg>
</body></html>
